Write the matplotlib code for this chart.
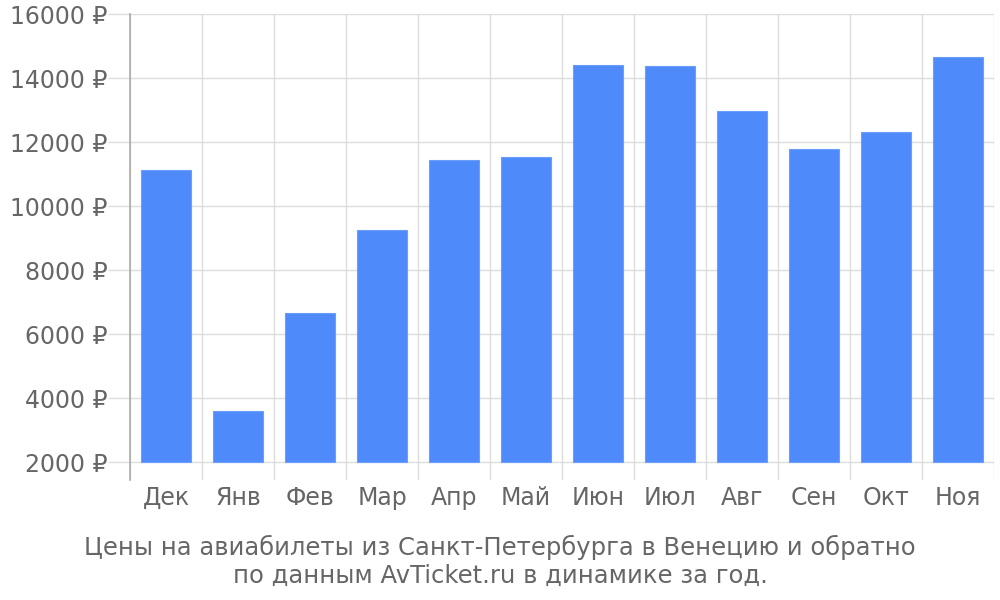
import matplotlib.pyplot as plt
import numpy as np

months = ["Дек", "Янв", "Фев", "Мар", "Апр", "Май", "Июн", "Июл", "Авг", "Сен", "Окт", "Ноя"]
prices = [11130, 3590, 6660, 9250, 11430, 11530, 14400, 14370, 12960, 11780, 12310, 14650]
yticks = [2000, 4000, 6000, 8000, 10000, 12000, 14000, 16000]

text_col = '#666666'
bar_col = '#4e8af9'

fig = plt.figure(figsize=(10, 6), dpi=100)
ax = fig.add_axes([0.130, 0.20, 0.864, 1 - 14 / 600 - 0.20])

x = np.arange(len(months))
base = 2000
ax.bar(x, np.array(prices) - base, bottom=base, width=0.70,
       color=bar_col, edgecolor='#6b9dfa', linewidth=0.8, zorder=3)

ax.set_xlim(-0.5, len(months) - 0.5)
ax.set_ylim(2000 - 18 * 31.25, 16000)

ax.set_yticks(yticks)
ax.set_yticklabels([f"{v} ₽" for v in yticks])
ax.set_xticks(x)
ax.set_xticklabels(months)
ax.set_xticks(np.arange(len(months) + 1) - 0.5, minor=True)

ax.tick_params(axis='y', length=16, width=1, color='#dddddd', labelsize=17,
               labelcolor=text_col, pad=0)
ax.tick_params(axis='x', which='major', length=0, labelsize=17,
               labelcolor=text_col, pad=4)
ax.tick_params(axis='x', which='minor', length=0)

ax.grid(True, axis='y', color='#dddddd', linewidth=1, zorder=0)
ax.grid(True, axis='x', which='minor', color='#dddddd', linewidth=1, zorder=0)

for s in ['top', 'right', 'bottom']:
    ax.spines[s].set_visible(False)
ax.spines['left'].set_color('#aaaaaa')
ax.spines['left'].set_linewidth(1.2)

fig.text(0.5, 1 - 561.5 / 600, "Цены на авиабилеты из Санкт-Петербурга в Венецию и обратно\nпо данным AvTicket.ru в динамике за год.",
         ha='center', va='center', fontsize=17.5, color=text_col, linespacing=1.2)

fig.savefig('out.png', dpi=100)
